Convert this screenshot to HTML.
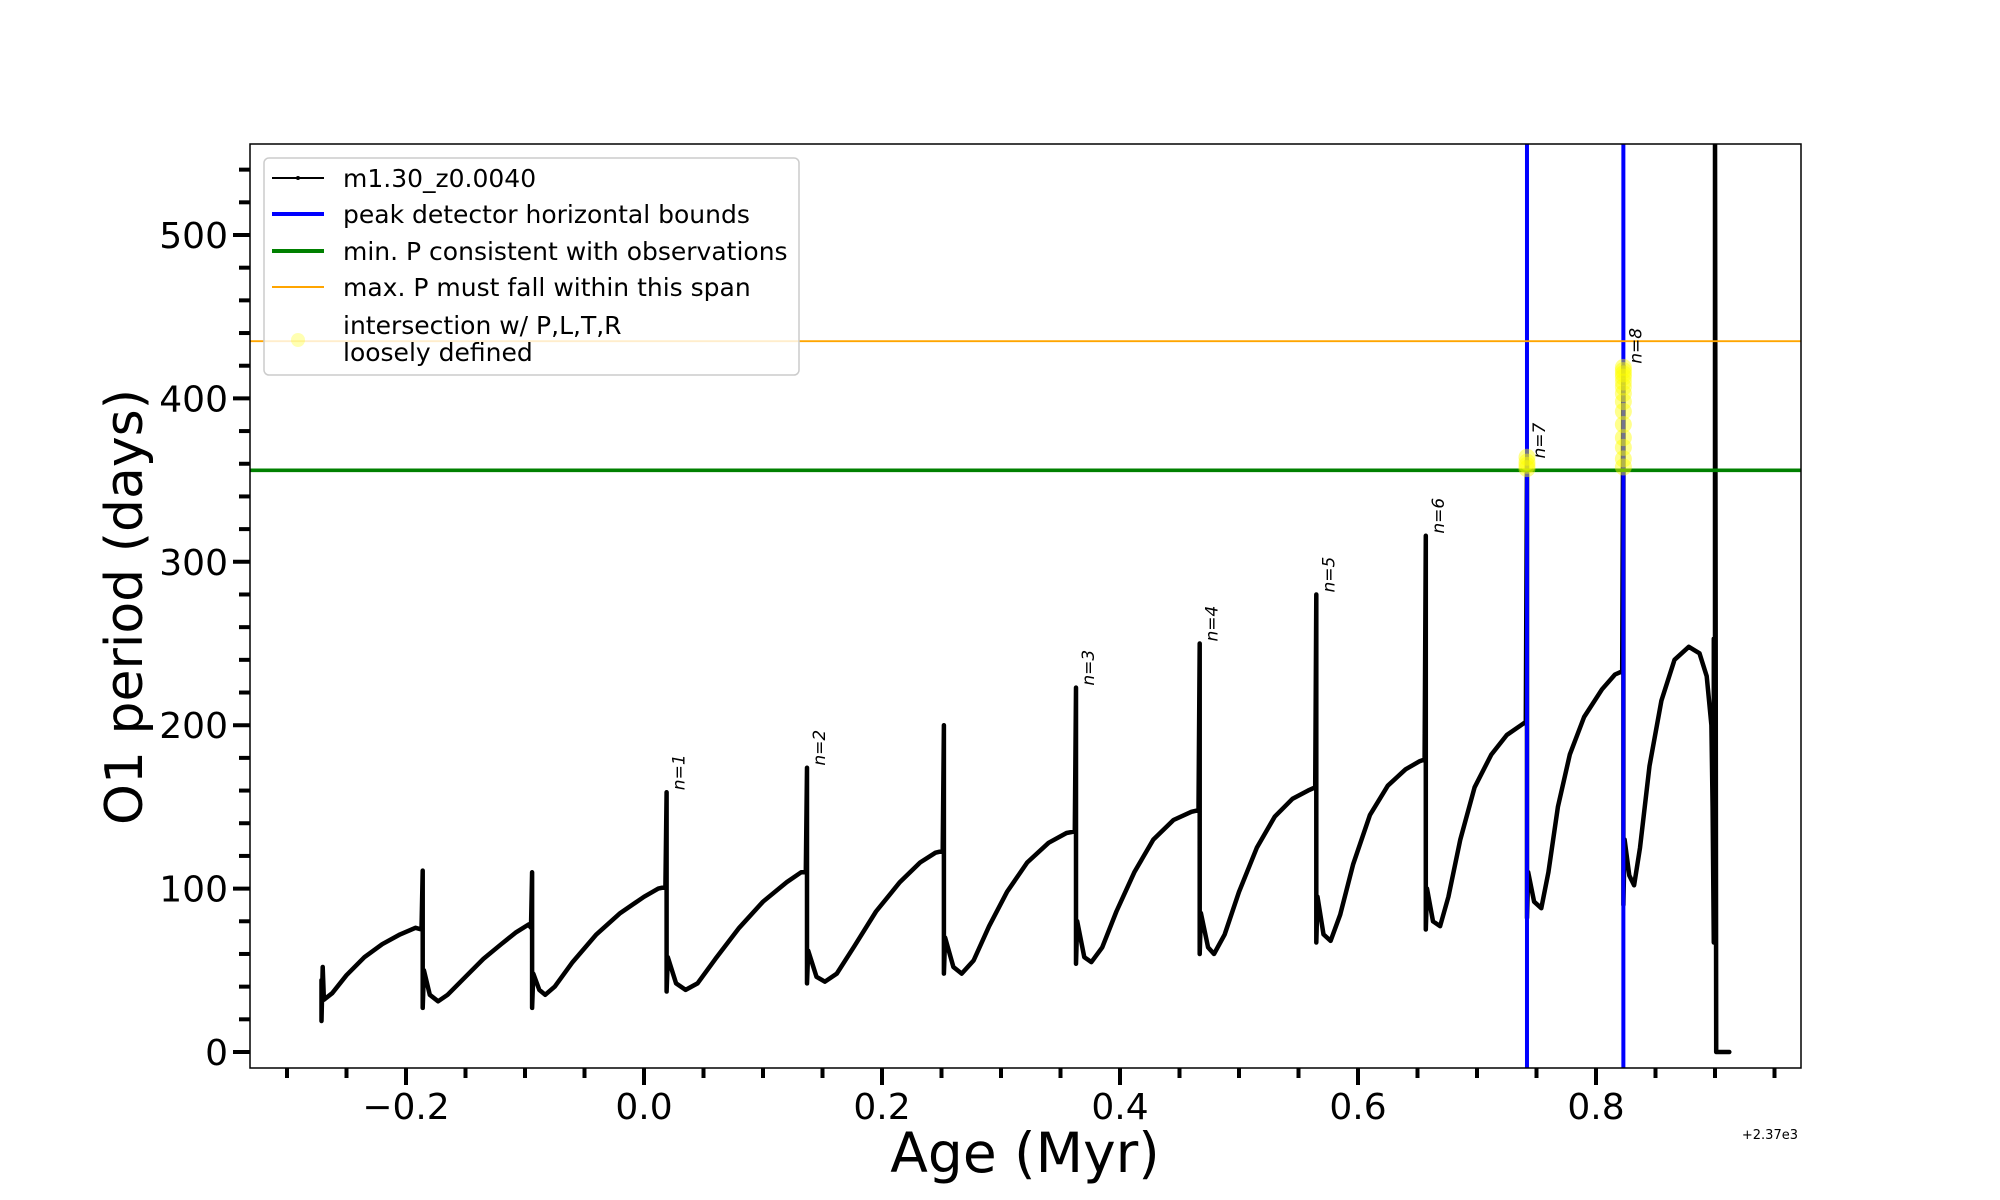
<!DOCTYPE html>
<html><head><meta charset="utf-8">
<style>
html,body{margin:0;padding:0;background:#fff;}
svg{display:block;font-family:"DejaVu Sans","Liberation Sans",sans-serif;}
</style></head>
<body>
<svg id="chart" xmlns="http://www.w3.org/2000/svg" width="2000" height="1200" viewBox="0 0 2000 1200">
<defs><clipPath id="plotclip"><rect x="250" y="144" width="1551" height="924"/></clipPath></defs>
<rect x="0" y="0" width="2000" height="1200" fill="#fff"/>
<g id="plot" clip-path="url(#plotclip)"></g>
<rect x="250" y="144" width="1551" height="924" fill="none" stroke="#000" stroke-width="1.5"/>
<g id="axes"></g>
<text x="1025" y="1172" font-size="55" text-anchor="middle">Age (Myr)</text>
<text transform="translate(142,607) rotate(-90)" font-size="52" text-anchor="middle">O1 period (days)</text>
<text x="1798" y="1139" font-size="13" text-anchor="end">+2.37e3</text>
<g id="legend">
<rect x="264" y="158" width="535" height="217" rx="5" fill="#fff" fill-opacity="0.8" stroke="#ccc" stroke-width="1.5"/>
<g><line x1="272" y1="178" x2="324" y2="178" stroke="#000" stroke-width="2"/><circle cx="298" cy="178" r="2" fill="#000"/><text x="343" y="187" font-size="25">m1.30_z0.0040</text></g>
<g><line x1="272" y1="214" x2="324" y2="214" stroke="#0000ff" stroke-width="4"/><text x="343" y="223" font-size="25">peak detector horizontal bounds</text></g>
<g><line x1="272" y1="251" x2="324" y2="251" stroke="#008000" stroke-width="4"/><text x="343" y="260" font-size="25">min. P consistent with observations</text></g>
<g><line x1="272" y1="287" x2="324" y2="287" stroke="#ffa500" stroke-width="2"/><text x="343" y="296" font-size="25">max. P must fall within this span</text></g>
<g><ellipse cx="298" cy="340" rx="7" ry="7" fill="#ffff00" fill-opacity="0.3"/><text x="343" y="334" font-size="25">intersection w/ P,L,T,R</text><text x="343" y="361" font-size="25">loosely defined</text></g>
</g>
</svg>
<script>
const ages = [
-0.271,-0.271,-0.270,-0.269,-0.262,-0.250,-0.235,-0.220,-0.205,-0.192,-0.187,
-0.186,-0.186,-0.185,-0.180,-0.173,-0.165,-0.150,-0.135,-0.120,-0.108,-0.097,-0.095,
-0.094,-0.094,-0.093,-0.088,-0.083,-0.075,-0.060,-0.040,-0.020,0.000,0.012,0.018,
0.019,0.019,0.020,0.027,0.035,0.045,0.060,0.080,0.100,0.120,0.132,0.136,
0.137,0.137,0.138,0.145,0.152,0.162,0.177,0.195,0.215,0.232,0.245,0.251,
0.252,0.252,0.253,0.260,0.267,0.277,0.290,0.305,0.322,0.340,0.355,0.362,
0.363,0.363,0.364,0.370,0.376,0.385,0.397,0.412,0.428,0.445,0.460,0.466,
0.467,0.467,0.468,0.474,0.479,0.488,0.500,0.515,0.530,0.545,0.558,0.564,
0.565,0.565,0.566,0.571,0.577,0.585,0.596,0.610,0.625,0.640,0.652,0.656,
0.657,0.657,0.658,0.663,0.669,0.676,0.686,0.698,0.712,0.725,0.737,0.741,
0.742,0.742,0.743,0.748,0.754,0.760,0.768,0.778,0.790,0.805,0.816,0.822,
0.823,0.823,0.824,0.828,0.832,0.837,0.845,0.855,0.866,0.878,0.887,0.893,0.897,
0.898,0.899,0.899,0.900,0.900,0.901,0.912];
const periods = [
44,19,52,32,36,47,58,66,72,76,75,
111,27,50,35,31,35,46,57,66,73,78,76,
110,27,48,38,35,40,55,72,85,95,100,101,
159,37,58,42,38,42,57,76,92,104,110,110,
174,42,62,46,43,48,65,86,104,116,122,123,
200,48,70,52,48,56,77,98,116,128,134,135,
223,54,80,58,55,64,86,110,130,142,147,148,
250,60,85,64,60,72,98,125,144,155,160,162,
280,67,95,72,68,84,115,145,163,173,178,179,
316,75,100,80,77,95,130,162,182,194,200,202,
362,82,110,92,88,110,150,182,205,222,231,233,
420,90,130,108,102,125,175,215,240,248,244,230,200,
150,67,253,253,570,0,0];
const peakBounds = [0.742, 0.823];
const minPeriod = [356];
const maxPeriod = [435];
const yellowAges = [0.742,0.742,0.742,0.742,0.823,0.823,0.823,0.823,0.823,0.823,0.823,0.823,0.823,0.823,0.823,0.823,0.823,0.823];
const yellowPeriods = [357,359,361,364,358,363,370,376,384,392,398,403,407,410,413,415,417,419];
const labelAges = [0.019,0.137,0.363,0.467,0.565,0.657,0.742,0.823];
const labelPeaks = [159,174,223,250,280,316,362,420];
const labelTexts = ["n=1","n=2","n=3","n=4","n=5","n=6","n=7","n=8"];
const xMajorTicks = [-0.2,0.0,0.2,0.4,0.6,0.8];
const xMajorLabels = ["\u22120.2","0.0","0.2","0.4","0.6","0.8"];
const xMinorTicks = [-0.30,-0.25,-0.15,-0.10,-0.05,0.05,0.10,0.15,0.25,0.30,0.35,0.45,0.50,0.55,0.65,0.70,0.75,0.85,0.90,0.95];
const yMajorTicks = [0,100,200,300,400,500];
const yMajorLabels = ["0","100","200","300","400","500"];
const yMinorTicks = [20,40,60,80,120,140,160,180,220,240,260,280,320,340,360,380,420,440,460,480,520,540];

const NS = "http://www.w3.org/2000/svg";
function X(v){ return 644 + (v) * 1190; }
function Y(v){ return 1052 - v * 1.634; }
function mk(tag, attrs, parent){
  const e = document.createElementNS(NS, tag);
  for (const k in attrs) e.setAttribute(k, attrs[k]);
  parent.appendChild(e);
  return e;
}
const plot = document.getElementById('plot');
const axes = document.getElementById('axes');

let d = "";
for (let i = 0; i < ages.length; i++) d += (i ? "L" : "M") + X(ages[i]).toFixed(1) + "," + Y(periods[i]).toFixed(1);
const curve = mk('path', {d: d, fill: 'none', stroke: '#000', 'stroke-width': 4.5, 'stroke-linejoin': 'round', 'stroke-linecap': 'round'}, plot);



peakBounds.forEach(function(a){
  const l = mk('line', {x1: X(a), x2: X(a), y1: 144, y2: 1068, stroke: '#0000ff', 'stroke-width': 4}, plot);
  
  
});
minPeriod.forEach(function(p){
  const l = mk('line', {x1: 250, x2: 1801, y1: Y(p), y2: Y(p), stroke: '#008000', 'stroke-width': 3.6}, plot);
  
  
});
maxPeriod.forEach(function(p){
  const l = mk('line', {x1: 250, x2: 1801, y1: Y(p), y2: Y(p), stroke: '#ffa500', 'stroke-width': 1.8}, plot);
  
  
});
for (let i = 0; i < yellowAges.length; i++){
  const c = mk('circle', {cx: X(yellowAges[i]), cy: Y(yellowPeriods[i]), r: 8.5, fill: '#ffff00', 'fill-opacity': 0.45}, plot);
  
  
}
for (let i = 0; i < labelAges.length; i++){
  const t = mk('text', {transform: 'translate(' + (X(labelAges[i]) + 18) + ',' + (Y(labelPeaks[i]) - 2) + ') rotate(-90)', 'font-size': 17, 'font-style': 'italic'}, plot);
  t.textContent = labelTexts[i];
  
  
}

xMajorTicks.forEach(function(v, i){
  const l = mk('line', {x1: X(v), x2: X(v), y1: 1068, y2: 1085, stroke: '#000', 'stroke-width': 4}, axes);
  
  
  const t = mk('text', {x: X(v), y: 1119, 'font-size': 36, 'text-anchor': 'middle'}, axes);
  t.textContent = xMajorLabels[i];
  
  
});
xMinorTicks.forEach(function(v){
  const l = mk('line', {x1: X(v), x2: X(v), y1: 1068, y2: 1078, stroke: '#000', 'stroke-width': 4}, axes);
  
  
});
yMajorTicks.forEach(function(v, i){
  const l = mk('line', {x1: 233, x2: 250, y1: Y(v), y2: Y(v), stroke: '#000', 'stroke-width': 4}, axes);
  
  
  const t = mk('text', {x: 228, y: Y(v) + 13, 'font-size': 36, 'text-anchor': 'end'}, axes);
  t.textContent = yMajorLabels[i];
  
  
});
yMinorTicks.forEach(function(v){
  const l = mk('line', {x1: 239, x2: 250, y1: Y(v), y2: Y(v), stroke: '#000', 'stroke-width': 4}, axes);
  
  
});
</script>
</body></html>
